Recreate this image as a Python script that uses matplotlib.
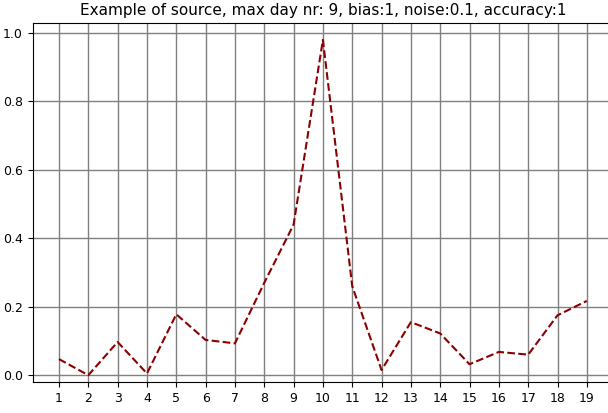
import numpy as np
import matplotlib
matplotlib.use("Agg")
import matplotlib.pyplot as plt

# day numbers and source values
days = list(range(1, 20))
values = [0.047, 0.0, 0.097, 0.005, 0.178, 0.103, 0.093, 0.27, 0.44, 0.98,
          0.26, 0.015, 0.155, 0.122, 0.032, 0.068, 0.06, 0.175, 0.217]
title = "Example of source, max day nr: 9, bias:1, noise:0.1, accuracy:1"

fig = plt.figure(figsize=(6.08, 4.13), dpi=100)
ax = fig.add_axes([0.0536, 0.075, 0.955, 0.869])

ax.plot(days, values, '--', color='darkred', linewidth=1.5)
ax.set_xticks(days)
ax.set_yticks([0.0, 0.2, 0.4, 0.6, 0.8, 1.0])
ax.set_xlim(0.1, 19.9)
ax.set_ylim(-0.02, 1.029)
ax.grid(True, color='gray', linewidth=1)
ax.tick_params(labelsize=9)
ax.set_title(title, fontsize=11)

fig.savefig("out.png", dpi=100)
